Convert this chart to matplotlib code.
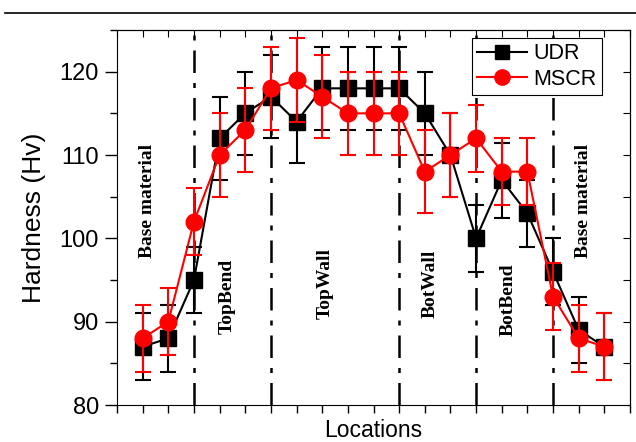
import matplotlib
matplotlib.use("Agg")
import matplotlib.pyplot as plt
from matplotlib.lines import Line2D
import numpy as np

positions = list(range(1, 20))
udr = [87, 88, 95, 112, 115, 117, 114, 118, 118, 118, 118, 115, 110, 100, 107, 103, 96, 89, 87]
udr_err = [4, 4, 4, 5, 5, 5, 5, 5, 5, 5, 5, 5, 5, 4, 4.5, 4, 4, 4, 4]
mscr = [88, 90, 102, 110, 113, 118, 119, 117, 115, 115, 115, 108, 110, 112, 108, 108, 93, 88, 87]
mscr_err = [4, 4, 4, 5, 5, 5, 5, 5, 5, 5, 5, 5, 5, 4, 4, 4, 4, 4, 4]
boundaries = [3, 6, 11, 14, 17]
region_labels = ["Base material", "TopBend", "TopWall", "BotWall", "BotBend", "Base material"]
region_x = [1.17, 4.29, 8.1, 12.2, 15.24, 18.17]
region_y = [104.5, 93, 94.6, 94.6, 92.6, 104.5]

fig = plt.figure(figsize=(6.36, 4.42), dpi=100)
ax = fig.add_axes([117/636, 1-405/442, (630-117)/636, (405-30)/442])

for b in boundaries:
    ax.axvline(b, color="black", lw=1.8, ls=(0, (9, 4, 2, 4)), zorder=1)

ax.errorbar(positions, udr, yerr=udr_err, color="black", marker="s", ms=11.5,
            lw=1.5, capsize=6, capthick=1.5, elinewidth=1.5, zorder=3)
ax.errorbar(positions, mscr, yerr=mscr_err, color="red", marker="o", ms=12,
            lw=1.5, capsize=6, capthick=1.5, elinewidth=1.5, zorder=4)

for t, x, y in zip(region_labels, region_x, region_y):
    ax.text(x, y, t, rotation=90, ha="center", va="center", fontsize=14,
            fontweight="bold", family="Liberation Serif")

ax.set_xlim(0, 20)
ax.set_ylim(80, 125)
ax.set_xticks(np.arange(0, 21, 1))
ax.set_xticklabels([])
ax.set_yticks([80, 90, 100, 110, 120])
ax.set_yticks(np.arange(85, 126, 10), minor=True)
ax.tick_params(axis="y", which="major", direction="out", length=9, width=1, labelsize=17, pad=4)
ax.tick_params(axis="y", which="minor", direction="out", length=5, width=1)
ax.tick_params(axis="x", which="both", direction="out", length=6, width=1)
for lab in ax.get_yticklabels():
    lab.set_family("Liberation Sans")

top = ax.secondary_xaxis("top")
top.set_xticks(np.arange(0, 21, 1))
top.set_xticklabels([])
top.tick_params(direction="in", length=5)
right = ax.secondary_yaxis("right")
right.set_yticks(np.arange(80, 126, 5))
right.set_yticklabels([])
right.tick_params(direction="in", length=5)

ax.set_ylabel("Hardness (Hv)", fontsize=19, family="Liberation Sans", labelpad=10)
fig.text((117+630)/2/636 - 0.0, 1-437/442, "Locations", fontsize=16.5,
         family="Liberation Sans", ha="center", va="baseline")

handles = [Line2D([], [], color="black", marker="s", ms=10, lw=1.5),
           Line2D([], [], color="red", marker="o", ms=11, lw=1.5)]
leg = ax.legend(handles, ["UDR", "MSCR"], loc="upper left",
                bbox_to_anchor=((472-117)/513, (405-38)/375),
                prop={"family": "Liberation Sans", "size": 15.5}, fancybox=False,
                edgecolor="black", framealpha=1, handlelength=2.3,
                borderpad=0.25, labelspacing=0.2, handletextpad=0.3,
                borderaxespad=0)
leg.get_frame().set_linewidth(0.8)

fig.add_artist(Line2D([5/636, 1], [1-13/442, 1-13/442], color="black", lw=1.2,
                      transform=fig.transFigure))

fig.savefig("out.png", dpi=100)
